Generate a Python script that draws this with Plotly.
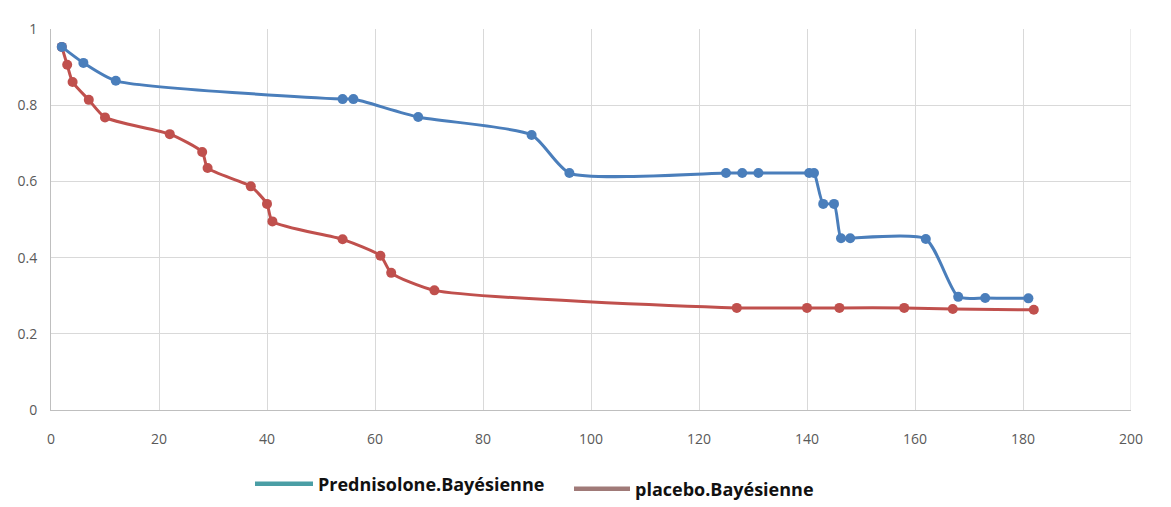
import plotly.graph_objects as go

pred_x = [2, 6, 12, 54, 56, 68, 89, 96, 125, 128, 131, 140.4, 141.3, 143, 145, 146.3, 148, 162, 168, 173, 181]
pred_y = [0.953, 0.911, 0.864, 0.816, 0.816, 0.769, 0.722, 0.622, 0.622, 0.622, 0.622, 0.622, 0.622,
          0.541, 0.541, 0.451, 0.451, 0.449, 0.297, 0.294, 0.293]

plac_x = [2, 3, 4, 7, 10, 22, 28, 29, 37, 40, 41, 54, 61, 63, 71, 127, 140, 146, 158, 167, 182]
plac_y = [0.953, 0.906, 0.861, 0.814, 0.768, 0.724, 0.677, 0.635, 0.587, 0.541, 0.495, 0.448, 0.405,
          0.360, 0.314, 0.268, 0.268, 0.268, 0.268, 0.265, 0.263]

series_names = ["Prednisolone.Bayésienne", "placebo.Bayésienne"]
x_ticks = [0, 20, 40, 60, 80, 100, 120, 140, 160, 180, 200]
y_ticks = [0, 0.2, 0.4, 0.6, 0.8, 1]

blue = "#4a7ebb"
red = "#c0504d"

fig = go.Figure()
fig.add_trace(go.Scatter(x=plac_x, y=plac_y, mode="lines+markers", line=dict(color=red, width=3, shape="spline", smoothing=0.6),
                         marker=dict(color=red, size=10), showlegend=False))
fig.add_trace(go.Scatter(x=pred_x, y=pred_y, mode="lines+markers", line=dict(color=blue, width=3, shape="spline", smoothing=0.6),
                         marker=dict(color=blue, size=10), showlegend=False))
# legend entries (colours as in the reference legend)
fig.add_trace(go.Scatter(x=[None], y=[None], mode="lines", line=dict(color="#4a9ea5", width=4.5),
                         name=series_names[0], legend="legend"))
fig.add_trace(go.Scatter(x=[None], y=[None], mode="lines", line=dict(color="#a07a78", width=4.5),
                         name=series_names[1], legend="legend2"))

legend_font = dict(family="Open Sans", size=18, color="#111111", weight="bold")
fig.update_layout(
    width=1171, height=507,
    margin=dict(l=43, r=48, t=21, b=105, autoexpand=False),
    paper_bgcolor="white", plot_bgcolor="white",
    font=dict(family="Open Sans", color="#595959", size=14),
    xaxis=dict(range=[0, 200], tickvals=x_ticks, showgrid=True, gridcolor="#d9d9d9", gridwidth=1,
               showline=True, linecolor="#bfbfbf", linewidth=1, zeroline=False,
               ticks="outside", ticklen=16, tickcolor="rgba(0,0,0,0)", mirror=False),
    yaxis=dict(range=[0, 1], tickvals=y_ticks, showgrid=True, gridcolor="#d9d9d9", gridwidth=1,
               showline=True, linecolor="#bfbfbf", linewidth=1, zeroline=False,
               ticks="outside", ticklen=10, tickcolor="rgba(0,0,0,0)"),
    legend=dict(x=(250 - 51) / 1080, xanchor="left", y=31 / 507, yref="container", yanchor="middle",
                font=legend_font, bgcolor="rgba(0,0,0,0)", itemwidth=58),
    legend2=dict(x=(569 - 51) / 1080, xanchor="left", y=26 / 507, yref="container", yanchor="middle",
                 font=legend_font, bgcolor="rgba(0,0,0,0)", itemwidth=56),
    shapes=[dict(type="line", xref="paper", yref="paper", x0=1.036, x1=1.036, y0=-0.079, y1=1.076,
                 line=dict(color="#d9d9d9", width=1)),
            dict(type="line", xref="x", yref="paper", x0=200, x1=200, y0=0, y1=1,
                 line=dict(color="#d9d9d9", width=1))],
)
fig.write_html("out.html")
